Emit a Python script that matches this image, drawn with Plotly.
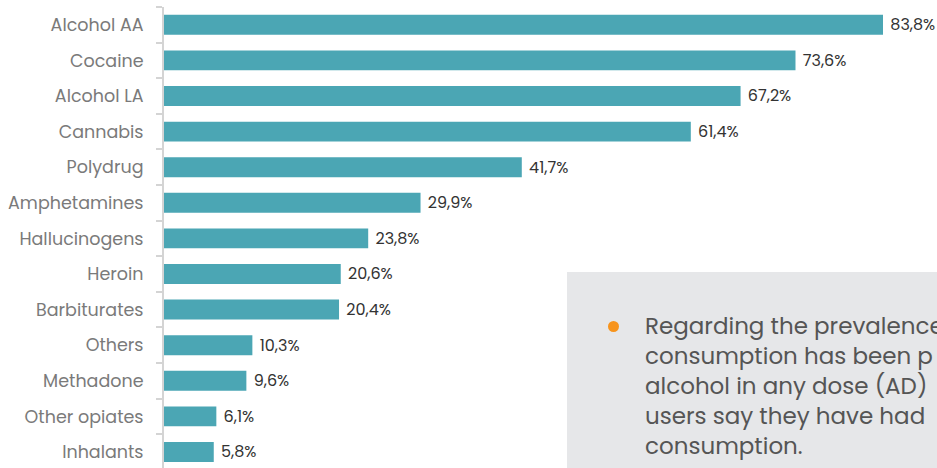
import plotly.graph_objects as go

# Substances, top to bottom, and their prevalence (%)
categories = ["Alcohol AA", "Cocaine", "Alcohol LA", "Cannabis", "Polydrug",
              "Amphetamines", "Hallucinogens", "Heroin", "Barbiturates",
              "Others", "Methadone", "Other opiates", "Inhalants"]
values = [83.8, 73.6, 67.2, 61.4, 41.7, 29.9, 23.8, 20.6, 20.4, 10.3, 9.6, 6.1, 5.8]
value_labels = ["\u00a0" + f"{v:.1f}%".replace(".", ",") for v in values]

note_lines = [
    "Regarding the prevalence",
    "consumption has been p",
    "alcohol in any dose (AD)",
    "users say they have had",
    "consumption.",
]

FONT = "Poppins, Inter, Lato, sans-serif"
W, H = 937, 468
ML, MT = 164, 7
PW, PH = W - ML, H - MT

fig = go.Figure(go.Bar(
    y=categories,
    x=values,
    orientation="h",
    width=0.56,
    marker=dict(color="#4ba6b4", line=dict(width=0)),
    text=value_labels,
    textposition="outside",
    constraintext="none",
    textfont=dict(family=FONT, size=16, color="#333333"),
    cliponaxis=False,
    hoverinfo="skip",
))

fig.update_layout(
    width=W, height=H,
    margin=dict(l=ML, r=0, t=MT, b=0, pad=0),
    paper_bgcolor="white", plot_bgcolor="white",
    showlegend=False,
    bargap=0.44,
    xaxis=dict(range=[0, PW / 8.58], visible=False, fixedrange=True),
    yaxis=dict(
        type="category",
        categoryorder="array", categoryarray=categories,
        range=[12.45, -0.5],
        showline=True, linecolor="#d4d4d4", linewidth=2,
        ticks="outside", tickson="boundaries", ticklen=6,
        tickcolor="#d4d4d4", tickwidth=2,
        ticklabelstandoff=15,
        tickfont=dict(family=FONT, size=17.5, color="#7a7a7a"),
        showgrid=False, zeroline=False, fixedrange=True,
    ),
)

def px_x(x):
    return (x - ML) / PW

def px_y(y):
    return (H - y) / PH

# Grey note panel in the lower right corner
fig.add_shape(type="rect", xref="paper", yref="paper",
              x0=px_x(567), x1=px_x(960), y0=px_y(490), y1=px_y(272),
              fillcolor="#e6e7e9", line=dict(width=0), layer="above")
fig.add_shape(type="circle", xref="paper", yref="paper",
              x0=px_x(608), x1=px_x(619), y0=px_y(332), y1=px_y(321),
              fillcolor="#f7941d", line=dict(width=0), layer="above")

# Note text as one left-aligned block, centred on its middle line
fig.add_annotation(xref="paper", yref="paper", x=px_x(643), y=px_y(386),
                   xanchor="left", yanchor="middle", align="left",
                   showarrow=False, text="<br>".join(note_lines),
                   font=dict(family=FONT, size=23, color="#555555"))

fig.write_html("out.html")
